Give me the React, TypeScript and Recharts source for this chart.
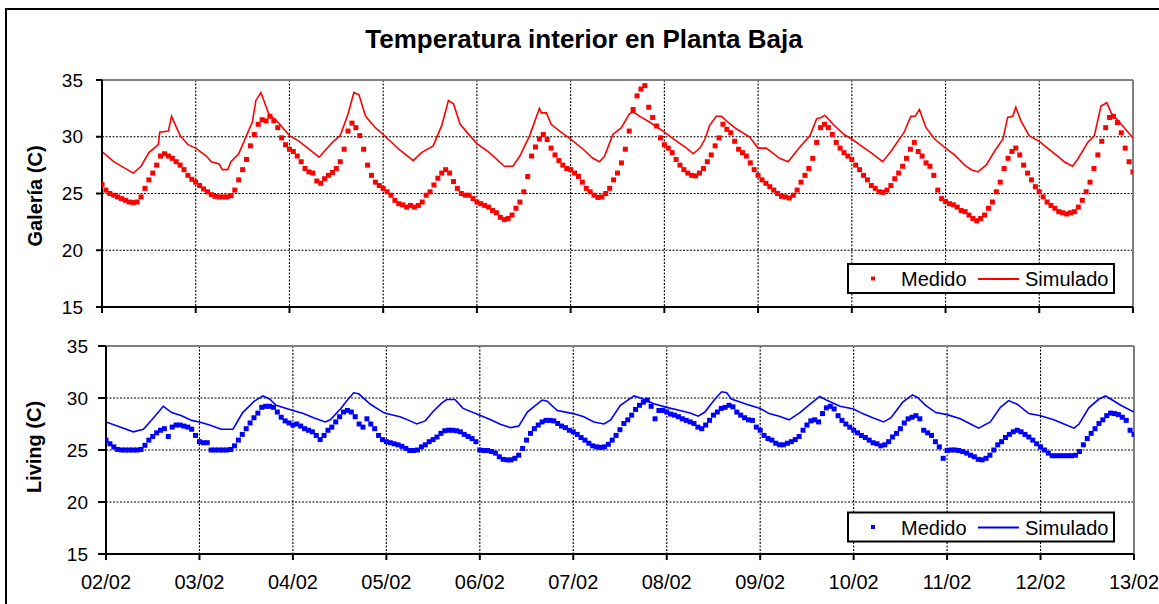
import React from 'react';
import { ComposedChart, Line, Scatter, XAxis, YAxis, CartesianGrid, ReferenceLine } from 'recharts';

// X axis: days since 02/02
const diasTicks = [0, 1, 2, 3, 4, 5, 6, 7, 8, 9, 10, 11];
const diasEtiquetas = ['02/02', '03/02', '04/02', '05/02', '06/02', '07/02', '08/02', '09/02', '10/02', '11/02', '12/02', '13/02'];
const tempTicks = [15, 20, 25, 30, 35];

// Galería – medido (hourly readings)
const galeriaMedido = [
  25.8, 25.3, 25.0, 24.85, 24.7, 24.55, 24.4, 24.25, 24.2, 24.25, 24.7, 25.45, 26.2, 26.8, 27.5, 28.3, 28.5, 28.3, 28.1, 27.8, 27.5, 27.1, 26.6, 26.25,
  26.0, 25.7, 25.4, 25.15, 24.9, 24.75, 24.7, 24.7, 24.7, 24.8, 25.3, 26.2, 27.1, 28.0, 29.2, 30.2, 31.1, 31.5, 31.4, 31.8, 31.4, 30.8, 29.9, 29.3,
  28.9, 28.7, 28.3, 27.8, 27.2, 26.9, 26.8, 26.1, 25.9, 26.3, 26.6, 26.85, 27.2, 27.8, 28.9, 30.5, 31.2, 30.8, 30.1, 28.9, 27.5, 26.6, 26.0, 25.7,
  25.45, 25.15, 24.85, 24.4, 24.1, 24.0, 23.8, 23.95, 23.8, 23.95, 24.25, 24.85, 25.15, 25.75, 26.35, 26.8, 27.1, 26.8, 26.05, 25.45, 25.0, 24.85, 24.85, 24.55,
  24.25, 24.1, 23.95, 23.8, 23.5, 23.3, 22.9, 22.7, 22.8, 23.1, 23.7, 24.25, 25.15, 26.5, 28.3, 29.1, 29.8, 30.2, 29.75, 29.0, 28.4, 27.9, 27.5, 27.2,
  27.1, 26.8, 26.5, 26.0, 25.45, 25.15, 24.85, 24.65, 24.7, 25.0, 25.45, 26.2, 26.8, 27.7, 28.9, 30.5, 32.4, 33.6, 34.2, 34.5, 32.6, 31.7, 30.95, 29.9,
  29.3, 29.0, 28.6, 28.0, 27.5, 27.1, 26.8, 26.6, 26.55, 26.8, 27.2, 27.8, 28.4, 29.2, 29.9, 31.1, 30.65, 30.35, 29.6, 28.9, 28.6, 28.3, 27.7, 27.1,
  26.6, 26.2, 25.9, 25.6, 25.3, 25.0, 24.75, 24.7, 24.6, 24.85, 25.3, 26.0, 26.6, 27.2, 28.1, 29.5, 30.8, 31.1, 30.8, 30.2, 29.5, 29.0, 28.6, 28.3,
  28.0, 27.5, 27.1, 26.6, 26.2, 25.7, 25.45, 25.15, 25.1, 25.3, 25.7, 26.3, 26.8, 27.4, 28.1, 28.9, 29.5, 28.7, 28.3, 27.7, 27.4, 26.6, 25.3, 24.55,
  24.3, 24.1, 24.0, 23.8, 23.5, 23.4, 23.1, 22.8, 22.6, 22.8, 23.1, 23.7, 24.25, 25.15, 26.0, 27.2, 28.1, 28.7, 29.0, 28.4, 27.5, 26.8, 26.2, 25.6,
  25.15, 24.7, 24.25, 23.95, 23.7, 23.4, 23.3, 23.2, 23.3, 23.4, 23.8, 24.4, 25.15, 26.0, 27.2, 28.4, 29.6, 30.8, 31.7, 31.8, 31.25, 30.35, 29.0, 27.8,
  26.9,
];

// Galería – simulado: [hour since 02/02 00:00, temperature]
const galeriaSimulado = [
  [0, 28.7], [3, 27.8], [5.5, 27.3], [8, 26.8], [10, 27.4], [12, 28.6], [14.4, 29.3], [14.8, 30.4], [17, 30.5], [17.8, 31.8], [20, 30.1], [22, 29.3],
  [24, 29.0], [26.7, 28.3], [28, 27.8], [30, 27.6], [30.8, 27.1], [32.2, 27.1], [33, 27.8], [35, 28.5], [37, 30.1], [38.5, 31.3], [39.4, 33.2], [40.7, 33.9], [42.7, 32.0], [45, 31.3],
  [48, 30.1], [50.5, 29.6], [53, 28.9], [55.6, 28.2], [57.4, 28.9], [59, 29.5], [61, 30.1], [63, 32.0], [64.5, 33.9], [65.8, 33.7], [67.5, 31.8], [70, 30.8],
  [72, 30.2], [76, 28.9], [79.7, 27.9], [81.8, 28.6], [84.8, 29.2], [87, 31.0], [88.7, 33.2], [90, 32.9], [91.7, 31.1], [94.2, 30.1],
  [96, 29.4], [99.2, 28.6], [103, 27.4], [105.2, 27.4], [107, 28.3], [109.5, 30.1], [112, 32.5], [112.5, 32.1], [113.8, 32.1], [115, 31.1], [117.2, 30.5],
  [120, 29.8], [123.2, 28.9], [125.7, 28.1], [127.4, 27.8], [128.7, 28.3], [130.8, 30.2], [133, 30.8], [135, 32.0], [136, 32.2], [137.7, 31.8], [140.2, 31.3],
  [144, 30.4], [147.2, 29.6], [149.7, 29.0], [151.4, 28.5], [153.1, 29.0], [154.4, 29.8], [155.6, 31.0], [157.3, 31.8], [158.6, 31.8], [160.2, 31.3], [162.4, 30.7], [165.8, 30.0],
  [168, 29.0], [170.1, 29.0], [173.5, 28.1], [175.7, 27.8], [178.7, 29.1], [181.3, 30.1], [183, 31.6], [184.2, 31.7], [185.1, 31.9], [187.2, 31.1], [190, 30.2],
  [192, 29.8], [194.4, 29.2], [196.9, 28.6], [199.9, 27.8], [202, 28.7], [205.4, 30.4], [207.1, 31.8], [208.2, 31.8], [209.3, 32.4], [211, 30.8], [213.2, 29.8],
  [216, 29.0], [218.3, 28.4], [220.9, 27.5], [222.6, 27.1], [224.3, 26.9], [226.4, 27.5], [228.5, 28.7], [230.7, 29.8], [231.9, 31.7], [233.2, 31.8], [234, 32.6], [235.3, 31.4], [237.4, 30.1],
  [240, 29.6], [242.1, 29.0], [244.7, 28.3], [246.4, 27.8], [248.5, 27.4], [249.8, 28.0], [252.4, 29.5], [254.1, 30.1], [255.8, 32.7], [257.3, 33.0], [258.4, 32.1], [261, 31.1], [264, 29.9], [265, 29.5],
];

// Living – medido (hourly readings)
const livingMedido = [
  25.95, 25.6, 25.3, 25.05, 25.0, 25.0, 25.0, 25.0, 25.0, 25.05, 25.45, 25.95, 26.3, 26.65, 26.9, 27.05, 26.3, 27.2, 27.4, 27.4, 27.3, 27.2, 27.0, 26.4,
  25.8, 25.7, 25.7, 25.0, 25.0, 25.0, 25.0, 25.0, 25.05, 25.4, 25.95, 26.5, 27.05, 27.6, 28.1, 28.55, 29.1, 29.2, 29.2, 29.1, 28.65, 28.15, 27.8, 27.6,
  27.4, 27.5, 27.3, 27.05, 26.9, 26.75, 26.4, 26.0, 26.4, 26.9, 27.2, 27.7, 28.2, 28.65, 28.8, 28.65, 28.2, 27.5, 27.2, 28.0, 27.5, 27.05, 26.4, 26.0,
  25.8, 25.7, 25.6, 25.5, 25.35, 25.15, 24.95, 24.95, 25.0, 25.3, 25.5, 25.8, 26.0, 26.25, 26.6, 26.85, 26.9, 26.9, 26.85, 26.75, 26.5, 26.3, 26.1, 25.8,
  25.0, 24.95, 24.95, 24.85, 24.7, 24.35, 24.1, 24.05, 24.05, 24.2, 24.5, 25.15, 25.95, 26.6, 27.05, 27.4, 27.7, 27.85, 27.85, 27.8, 27.55, 27.3, 27.15, 26.9,
  26.75, 26.5, 26.2, 25.95, 25.65, 25.4, 25.3, 25.25, 25.3, 25.55, 25.95, 26.4, 26.95, 27.55, 27.9, 28.35, 28.9, 29.3, 29.6, 29.8, 29.2, 28.0, 28.8, 28.8,
  28.65, 28.45, 28.35, 28.2, 28.0, 27.85, 27.7, 27.55, 27.2, 27.05, 27.4, 27.85, 28.35, 28.65, 29.0, 29.1, 29.3, 29.15, 28.65, 28.35, 28.1, 27.9, 27.85, 27.2,
  26.9, 26.4, 26.1, 25.95, 25.65, 25.5, 25.5, 25.65, 25.8, 26.0, 26.3, 26.9, 27.4, 27.8, 27.9, 27.7, 28.5, 29.05, 29.2, 28.95, 28.3, 27.85, 27.5, 27.2,
  26.9, 26.65, 26.4, 26.2, 25.95, 25.7, 25.6, 25.4, 25.5, 25.8, 26.25, 26.6, 27.05, 27.6, 28.0, 28.15, 28.3, 28.0, 26.9, 26.65, 26.4, 25.8, 25.3, 24.2,
  24.95, 25.0, 25.0, 24.95, 24.85, 24.7, 24.5, 24.35, 24.1, 24.05, 24.2, 24.5, 25.0, 25.5, 25.8, 26.2, 26.5, 26.75, 26.9, 26.75, 26.5, 26.25, 25.95, 25.6,
  25.3, 25.0, 24.7, 24.45, 24.45, 24.45, 24.45, 24.45, 24.45, 24.5, 24.85, 25.5, 26.1, 26.6, 27.05, 27.55, 27.9, 28.3, 28.55, 28.5, 28.4, 28.15, 27.85, 26.9,
  26.5,
];

// Living – simulado: [hour since 02/02 00:00, temperature]
const livingSimulado = [
  [0, 27.7], [3.6, 27.2], [7, 26.75], [9.6, 27.0], [12, 28.0], [14.7, 29.2], [16.9, 28.6], [19.4, 28.3], [22, 27.85],
  [24, 27.7], [26.6, 27.4], [29.6, 27.0], [32.6, 27.0], [35.1, 28.6], [38.1, 29.7], [40.3, 30.2], [42, 29.9], [43.7, 29.3],
  [48, 28.8], [50.7, 28.5], [53.3, 28.1], [56.3, 27.7], [57.6, 27.9], [60.2, 28.95], [61.9, 29.75], [63.6, 30.5], [64.9, 30.4], [67.9, 29.4], [71.3, 28.6],
  [72, 28.5], [75.5, 28.2], [78.1, 27.8], [79.8, 27.5], [82, 27.8], [84, 28.7], [86.2, 29.5], [87.5, 29.85], [89.6, 29.85], [91.7, 29.0],
  [96, 28.35], [98.8, 27.9], [101.4, 27.45], [103.9, 27.15], [106, 27.3], [108.2, 28.65], [110.3, 29.3], [112, 29.8], [113.3, 29.7], [115.9, 28.8],
  [120, 28.5], [122.7, 28.2], [125.3, 27.7], [127.9, 27.5], [129.6, 27.9], [132.1, 29.3], [135.6, 30.2], [137.3, 30.0], [140.7, 29.45],
  [144, 29.1], [147.4, 28.8], [150, 28.55], [152.1, 28.25], [153.8, 28.65], [156.4, 29.9], [158.1, 30.6], [159.4, 30.5], [160.6, 29.9], [164.5, 29.4],
  [168, 29.0], [170.3, 28.5], [172.9, 28.25], [175.4, 27.9], [178.2, 28.6], [180.8, 29.4], [183.3, 30.15], [185, 29.8], [188.5, 29.2],
  [192, 28.95], [194.3, 28.5], [196.9, 28.1], [199.7, 27.7], [201.6, 28.1], [204.6, 29.6], [207.1, 30.3], [208.4, 30.05], [210.5, 29.3], [213.1, 28.6],
  [216, 28.4], [219.4, 28.0], [222, 27.5], [224.1, 27.1], [227.1, 27.7], [229.7, 29.1], [231.8, 29.75], [234, 29.4], [237, 28.5],
  [240, 28.3], [243.4, 27.9], [246, 27.5], [248.6, 27.1], [249.9, 27.5], [252.4, 29.05], [255, 29.9], [256.7, 30.2], [258, 29.9], [260.6, 29.3], [264, 28.65],
];

const ROJO = '#ff0000';
const AZUL = '#0000ff';

const toMedido = (arr: number[]) => arr.map((v, i) => ({ t: i / 24, v }));
const toSimulado = (arr: number[][]) => arr.map(([h, v]) => ({ t: h / 24, v }));

const makeSquare = (color: string) => (props: any) => {
  const { cx, cy } = props;
  if (cx == null || cy == null || isNaN(cx) || isNaN(cy)) return <g />;
  return <rect x={cx - 2.5} y={cy - 2.5} width={5} height={5} fill={color} />;
};

const noTick = () => <g />;

type PanelProps = {
  medido: number[];
  simulado: number[][];
  color: string;
  top: number;
  height: number;
  marginTop: number;
  marginRight: number;
  yAxisWidth: number;
  xAxisHeight: number;
  yTickSize: number;
  yTickMargin: number;
  showLabels: boolean;
};

function Panel(p: PanelProps) {
  const med = toMedido(p.medido);
  const sim = toSimulado(p.simulado);
  return (
    <div style={{ position: 'absolute', left: 0, top: p.top, width: 1159, height: p.height }}>
      <ComposedChart
        width={1159}
        height={p.height}
        margin={{ top: p.marginTop, right: p.marginRight, bottom: 0, left: 0 }}
      >
        <CartesianGrid stroke="#000" strokeWidth={1.1} strokeDasharray="2 1.5" />
        <XAxis
          type="number"
          dataKey="t"
          domain={[0, 11]}
          ticks={diasTicks}
          allowDataOverflow
          height={p.xAxisHeight}
          axisLine={{ stroke: '#000', strokeWidth: 2 }}
          tickLine={{ stroke: '#000', strokeWidth: 2 }}
          tickSize={6}
          tickMargin={15}
          interval={0}
          tick={p.showLabels ? { fill: '#000', fontSize: 20 } : noTick}
          tickFormatter={(d: number) => diasEtiquetas[d]}
        />
        <YAxis
          type="number"
          domain={[15, 35]}
          ticks={tempTicks}
          allowDataOverflow
          width={p.yAxisWidth}
          axisLine={{ stroke: '#000', strokeWidth: 2 }}
          tickLine={{ stroke: '#000', strokeWidth: 2 }}
          tickSize={p.yTickSize}
          tickMargin={p.yTickMargin}
          interval={0}
          tick={{ fill: '#000', fontSize: 19 }}
        />
        <ReferenceLine y={35} stroke="#808080" strokeWidth={2} />
        <ReferenceLine x={11} stroke="#808080" strokeWidth={2} />
        <Line
          data={sim}
          dataKey="v"
          type="linear"
          stroke={p.color}
          strokeWidth={1.6}
          dot={false}
          activeDot={false}
          isAnimationActive={false}
          name="Simulado"
        />
        <Scatter
          data={med}
          dataKey="v"
          fill={p.color}
          shape={makeSquare(p.color)}
          isAnimationActive={false}
          name="Medido"
        />
      </ComposedChart>
    </div>
  );
}

function LegendBox({ y, color }: { y: number; color: string }) {
  return (
    <g>
      <rect x={848} y={y} width={266} height={29} fill="#fff" stroke="#000" strokeWidth={2} />
      <rect x={871} y={y + 12.5} width={4} height={4} fill={color} />
      <text x={901} y={y + 22} fontSize={20} fill="#000">Medido</text>
      <line x1={978} x2={1019} y1={y + 15} y2={y + 15} stroke={color} strokeWidth={1.8} />
      <text x={1025} y={y + 22} fontSize={20} fill="#000">Simulado</text>
    </g>
  );
}

export default function App() {
  return (
    <div
      style={{
        position: 'absolute',
        left: 0,
        top: 0,
        width: 1159,
        height: 604,
        overflow: 'hidden',
        background: '#fff',
        fontFamily: '"Liberation Sans", Arial, sans-serif',
      }}
    >
      <div
        style={{
          position: 'absolute',
          left: 5,
          top: 8,
          width: 1250,
          height: 700,
          border: '2px solid #000',
        }}
      />
      <Panel
        medido={galeriaMedido}
        simulado={galeriaSimulado}
        color={ROJO}
        top={0}
        height={330}
        marginTop={80}
        marginRight={26}
        yAxisWidth={102}
        xAxisHeight={23}
        yTickSize={6}
        yTickMargin={13}
        showLabels={false}
      />
      <Panel
        medido={livingMedido}
        simulado={livingSimulado}
        color={AZUL}
        top={320}
        height={284}
        marginTop={26}
        marginRight={25}
        yAxisWidth={106}
        xAxisHeight={50}
        yTickSize={8}
        yTickMargin={10}
        showLabels={true}
      />
      <svg
        width={1159}
        height={604}
        style={{ position: 'absolute', left: 0, top: 0, pointerEvents: 'none' }}
      >
        <text x={584} y={48} textAnchor="middle" fontSize={26} fontWeight="bold" fill="#000">
          Temperatura interior en Planta Baja
        </text>
        <text transform="translate(42,196) rotate(-90)" textAnchor="middle" fontSize={20} fontWeight="bold" fill="#000">
          Galería (C)
        </text>
        <text transform="translate(41,447) rotate(-90)" textAnchor="middle" fontSize={20} fontWeight="bold" fill="#000">
          Living (C)
        </text>
        <LegendBox y={264} color={ROJO} />
        <LegendBox y={512.5} color={AZUL} />
      </svg>
    </div>
  );
}
